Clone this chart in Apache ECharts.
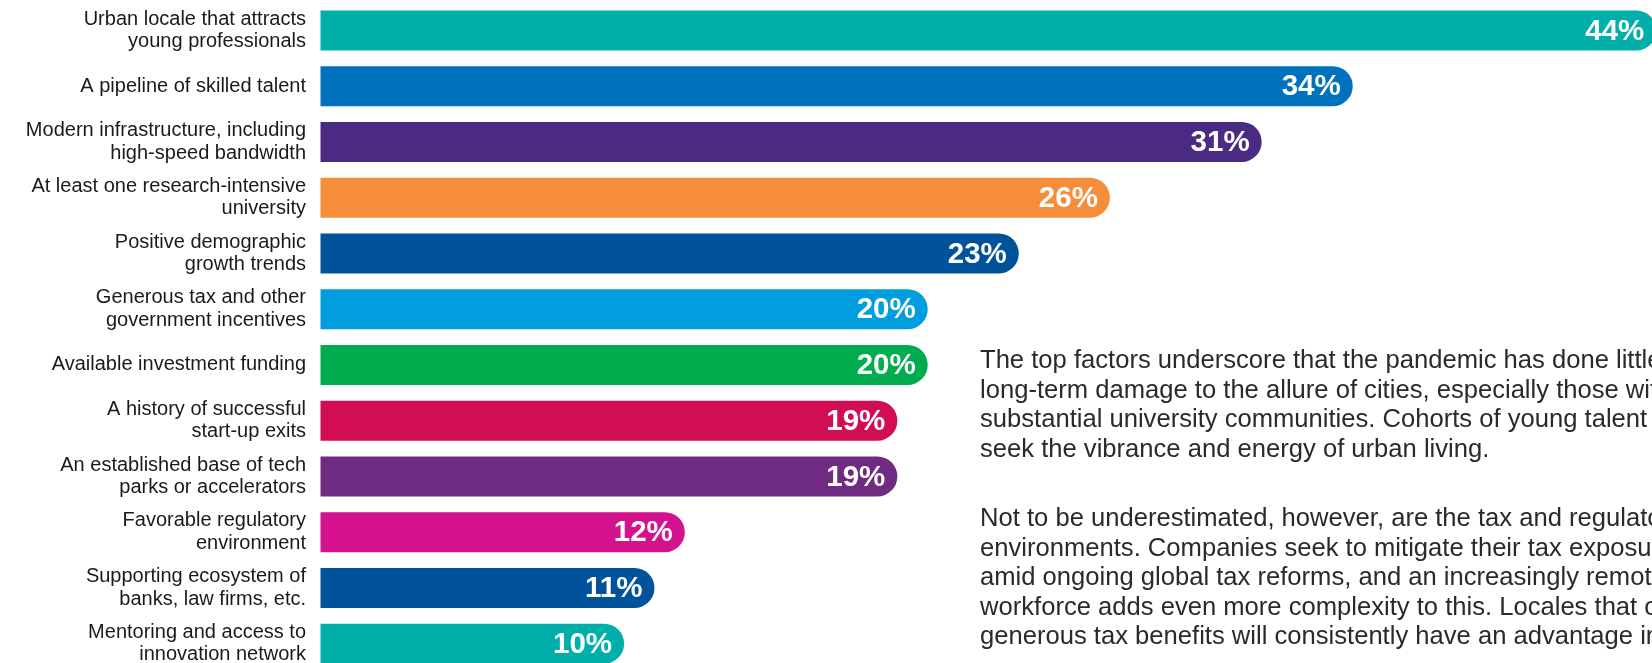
<!DOCTYPE html>
<html>
<head>
<meta charset="utf-8">
<script src="https://cdn.jsdelivr.net/npm/echarts@6/dist/echarts.min.js"></script>
<style>
html,body{margin:0;padding:0;background:#fff;overflow:hidden;}
#chart{width:1840px;height:700px;}
</style>
</head>
<body>
<div id="chart"></div>
<script>
const categories = [
  "Urban locale that attracts\nyoung professionals",
  "A pipeline of skilled talent",
  "Modern infrastructure, including\nhigh-speed bandwidth",
  "At least one research-intensive\nuniversity",
  "Positive demographic\ngrowth trends",
  "Generous tax and other\ngovernment incentives",
  "Available investment funding",
  "A history of successful\nstart-up exits",
  "An established base of tech\nparks or accelerators",
  "Favorable regulatory\nenvironment",
  "Supporting ecosystem of\nbanks, law firms, etc.",
  "Mentoring and access to\ninnovation network"
];
const values = [44, 34, 31, 26, 23, 20, 20, 19, 19, 12, 11, 10];
const barColors = [
  "#00AFAA", "#0071BC", "#4B2A84", "#F68D3A", "#00529B", "#009DDF",
  "#00AC4E", "#D20D54", "#6F2A81", "#D5128E", "#00529B", "#00AFAA"
];
const paragraph1 = [
  "The top factors underscore that the pandemic has done little",
  "long-term damage to the allure of cities, especially those with",
  "substantial university communities. Cohorts of young talent",
  "seek the vibrance and energy of urban living."
];
const paragraph2 = [
  "Not to be underestimated, however, are the tax and regulatory",
  "environments. Companies seek to mitigate their tax exposure",
  "amid ongoing global tax reforms, and an increasingly remote",
  "workforce adds even more complexity to this. Locales that offer",
  "generous tax benefits will consistently have an advantage in"
];

const chart = echarts.init(document.getElementById('chart'), null, {renderer: 'canvas'});
const textFont = "'Liberation Sans', Arial, sans-serif";
chart.setOption({
  animation: false,
  backgroundColor: '#ffffff',
  grid: {left: 320.5, top: 2.6, width: 1518, height: 669, containLabel: false},
  xAxis: {type: 'value', min: 0, max: 50, show: false},
  yAxis: {
    type: 'category',
    inverse: true,
    data: categories,
    axisLine: {show: false},
    axisTick: {show: false},
    splitLine: {show: false},
    axisLabel: {
      margin: 14.5,
      fontSize: 20,
      lineHeight: 22.5,
      padding: [2, 0, 0, 0],
      color: '#1a1a1a',
      fontFamily: textFont,
      align: 'right'
    }
  },
  series: [{
    type: 'bar',
    barWidth: 40,
    clip: false,
    data: values.map((v, i) => ({value: v, itemStyle: {color: barColors[i]}})),
    itemStyle: {borderRadius: [0, 20, 20, 0]},
    label: {
      show: true,
      position: 'insideRight',
      distance: 12,
      offset: [0, 1],
      formatter: '{c}%',
      color: '#ffffff',
      fontSize: 29.5,
      fontWeight: 'bold',
      fontFamily: textFont
    }
  }],
  graphic: [
    {
      type: 'text',
      x: 980,
      y: 346.5,
      style: {
        text: paragraph1.join('\n'),
        fontSize: 25.6,
        lineHeight: 29.5,
        fontFamily: textFont,
        fill: '#2a2a2a',
        verticalAlign: 'top'
      }
    },
    {
      type: 'text',
      x: 980,
      y: 504.5,
      style: {
        text: paragraph2.join('\n'),
        fontSize: 25.6,
        lineHeight: 29.5,
        fontFamily: textFont,
        fill: '#2a2a2a',
        verticalAlign: 'top'
      }
    }
  ]
});
</script>
</body>
</html>
